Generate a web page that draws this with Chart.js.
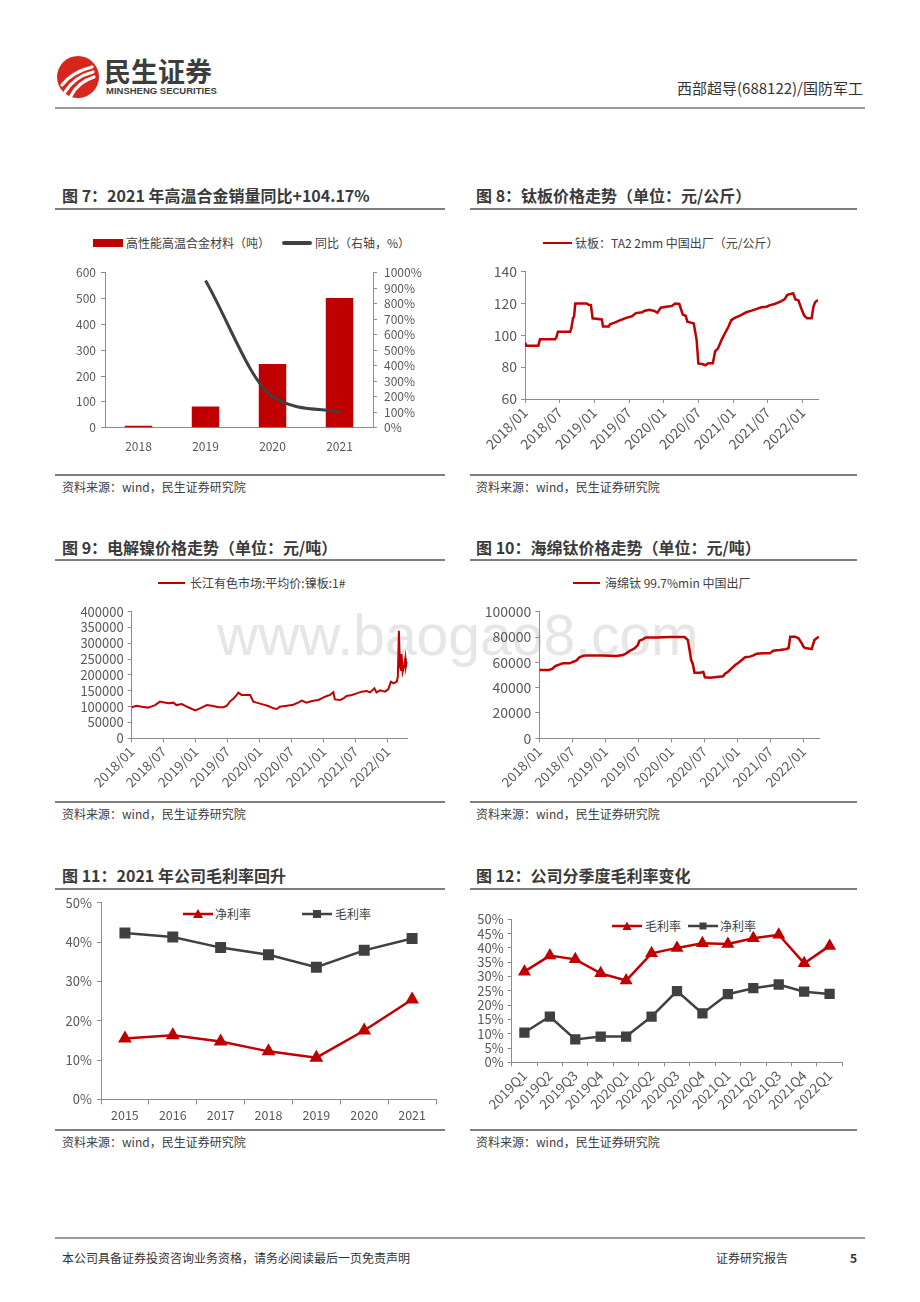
<!DOCTYPE html>
<html><head><meta charset="utf-8">
<script src="https://cdn.jsdelivr.net/npm/chart.js@4.4.1/dist/chart.umd.min.js"></script>
<style>
body{margin:0;width:920px;height:1302px;background:#fff;position:relative;overflow:hidden;font-family:"Noto Sans CJK SC","Noto Sans",sans-serif;color:#333}
.t{position:absolute;font-size:16px;font-weight:bold;color:#3a3a3a;white-space:nowrap;line-height:20px;height:20px}
.rule{position:absolute;height:2px;background:#7f7f7f}
.srule{position:absolute;height:1.5px;background:#7f7f7f}
.src{position:absolute;font-size:12px;color:#404040;white-space:nowrap;line-height:16px;height:16px}
.lt{position:absolute;font-size:12px;color:#404040;white-space:nowrap;line-height:16px;height:16px}
.box{position:absolute}
canvas{position:absolute}
.wm{position:absolute;font-family:"Liberation Sans",Arial,sans-serif;font-size:57px;color:#e6e6e6;white-space:nowrap;line-height:57px}
</style></head>
<body>
<script>
// ---------- DATA ----------
const years7 = ['2018','2019','2020','2021'];
const alloySales = [8, 82, 247, 502];
const alloyYoY = [null, 950, 201, 104.17];

const timeTickLabels = ['2018/01','2018/07','2019/01','2019/07','2020/01','2020/07','2021/01','2021/07','2022/01'];

// months counted from 2018/01
const tiPlateMonths = [0,0.25,2.3,2.6,5.2,5.4,5.7,7.8,8.0,8.3,8.5,8.7,10.7,11.0,11.4,11.7,13.3,13.5,14.5,14.7,15.5,16.5,17.5,18.5,19.2,20.3,20.6,21.5,22.4,22.9,23.5,24.4,25.4,26.0,26.7,27.3,27.8,28.1,29.2,29.7,30.0,30.8,31.2,31.7,32.5,32.9,33.4,34.0,34.6,35.2,35.7,36.3,37.2,38.3,39.2,40.0,40.9,41.8,42.4,43.2,44.1,44.9,45.4,46.4,46.8,47.3,47.8,48.3,48.8,49.6,49.9,50.2,50.7];
const tiPlatePrice = [95.4,93.5,93.5,97.5,97.5,98.5,102.3,102.3,104,110.7,112,120,120,119.2,119,110.7,110,105.5,105.5,107,108,109.6,111,112,114,114.5,115.3,116,115.3,114.2,117.4,118,118.4,120,119.7,113,112.3,108.6,107.5,97,82.4,81.8,81.2,82.4,82.4,90,91.8,97,101.3,105.4,109.6,111,112.4,114.5,115.5,116.5,117.6,118,119,119.7,121,122.6,125.5,126.4,122.6,122,117,112.5,110.7,110.7,118,120.8,122.2];

const nickelMonths = [0,0.9,1.9,3.1,4.4,5.3,5.9,6.9,7.8,8.4,9.4,10.6,11.9,12.8,14.1,15,16.3,17.2,17.8,18.4,19.1,19.7,20,20.6,21.6,22.2,22.8,23.4,24.4,25.6,26.6,27.2,27.8,29.1,30.3,31.3,31.9,32.8,33.8,35,35.9,36.6,37.2,37.8,38.1,39.1,39.7,40.3,41.3,42.2,43.1,44.1,44.7,45.5,45.9,46.6,47.5,48.1,48.6,49.1,49.7,49.9,50.1,50.3,50.5,50.6,50.8,51.1,51.3,51.4,51.6];
const nickelPrice = [97900,103000,100000,97000,105000,116000,114000,110500,112600,105000,108000,98000,88400,94700,105000,103000,98000,98000,102000,116000,126000,137000,144000,137000,137000,137000,116000,112600,108000,102000,94700,92600,100000,103000,106000,113700,119000,112600,118000,121000,128400,133700,137000,146000,123000,121000,126000,133700,137000,142000,147400,149500,145000,158000,145000,151600,147400,154700,179000,173700,179000,195000,340000,226000,216000,266000,210500,231600,252600,226000,242000];

const spongeMonths = [0,1.8,2.4,2.9,3.6,4.3,5.5,6.1,6.7,7.3,7.9,8.5,11.5,14,15.2,15.8,16.4,17.3,17.9,18.2,18.8,19.4,21.3,23.7,26.4,27,27.3,27.6,27.9,28.2,29.2,29.8,30.1,31,32.2,33.4,33.7,34.3,34.9,35.6,36.2,36.8,37.4,38.3,38.9,39.5,40.7,41.9,42.5,43.7,44.7,45.3,45.6,46.5,47.1,47.7,48,48.3,49.5,50,50.4,50.8];
const spongePrice = [54000,54000,55000,57100,58200,59200,59200,60300,61300,64000,65000,65500,65500,65000,65800,67100,69000,71000,73700,77100,78200,79700,79700,80000,80000,77600,69700,61800,58700,51800,51800,52400,48200,47900,48400,49000,50800,52600,55000,57900,59700,61800,64000,64500,65500,66800,67100,67100,69200,69700,70300,71100,80300,80300,79000,75000,72400,71300,70500,77600,79000,80300];

const years11 = ['2015','2016','2017','2018','2019','2020','2021'];
const netMargin11 = [15.5,16.3,14.7,12.2,10.6,17.5,25.4];
const grossMargin11 = [42.3,41.3,38.6,36.8,33.6,37.9,40.9];

const quarters12 = ['2019Q1','2019Q2','2019Q3','2019Q4','2020Q1','2020Q2','2020Q3','2020Q4','2021Q1','2021Q2','2021Q3','2021Q4','2022Q1'];
const grossMargin12 = [31.7,37.3,36.0,31.1,28.6,38.1,40.0,41.6,41.4,43.4,44.6,34.6,40.7];
const netMargin12 = [10.4,16.0,8.0,9.0,9.0,16.0,24.9,17.1,23.8,25.9,27.2,24.7,23.9];
</script>

<!-- header -->
<svg class="box" style="left:56px;top:55px" width="44" height="44" viewBox="0 0 44 44">
  <circle cx="22" cy="22" r="21" fill="#d9261c"/>
  <path d="M6,30 Q16,17 36,12" stroke="#fff" stroke-width="3.2" fill="none" stroke-linecap="round"/>
  <path d="M9,37 Q18,22 37,17" stroke="#fff" stroke-width="3.2" fill="none" stroke-linecap="round"/>
  <path d="M15,41 Q22,27 38,22" stroke="#fff" stroke-width="3.2" fill="none" stroke-linecap="round"/>
</svg>
<div class="box" style="left:104px;top:56px;font-size:27px;font-weight:bold;color:#3d3d3d;line-height:30px;white-space:nowrap">民生证券</div>
<div class="box" style="left:106px;top:85px;font-family:'Liberation Sans',Arial,sans-serif;font-size:9.5px;font-weight:bold;color:#3d3d3d;line-height:11px;white-space:nowrap">MINSHENG SECURITIES</div>
<div class="box" style="right:57px;top:78px;font-size:15px;color:#333;line-height:20px;white-space:nowrap">西部超导(688122)/国防军工</div>
<div class="rule" style="left:55px;top:107px;width:810px;background:#9a9a9a"></div>

<!-- titles -->
<div class="t" style="left:62px;top:185px">图 7：2021 年高温合金销量同比+104.17%</div>
<div class="rule" style="left:55px;top:208px;width:390px"></div>
<div class="t" style="left:476px;top:185px">图 8：钛板价格走势（单位：元/公斤）</div>
<div class="rule" style="left:470px;top:208px;width:387px"></div>

<div class="t" style="left:62px;top:537px">图 9：电解镍价格走势（单位：元/吨）</div>
<div class="rule" style="left:55px;top:559px;width:390px"></div>
<div class="t" style="left:476px;top:537px">图 10：海绵钛价格走势（单位：元/吨）</div>
<div class="rule" style="left:470px;top:559px;width:387px"></div>

<div class="t" style="left:62px;top:865px">图 11：2021 年公司毛利率回升</div>
<div class="rule" style="left:55px;top:888px;width:390px"></div>
<div class="t" style="left:476px;top:865px">图 12：公司分季度毛利率变化</div>
<div class="rule" style="left:470px;top:888px;width:387px"></div>

<!-- sources -->
<div class="srule" style="left:55px;top:474px;width:390px"></div>
<div class="src" style="left:62px;top:479px">资料来源：wind，民生证券研究院</div>
<div class="srule" style="left:470px;top:474px;width:387px"></div>
<div class="src" style="left:476px;top:479px">资料来源：wind，民生证券研究院</div>
<div class="srule" style="left:55px;top:801px;width:390px"></div>
<div class="src" style="left:62px;top:806px">资料来源：wind，民生证券研究院</div>
<div class="srule" style="left:470px;top:801px;width:387px"></div>
<div class="src" style="left:476px;top:806px">资料来源：wind，民生证券研究院</div>
<div class="srule" style="left:55px;top:1129px;width:390px"></div>
<div class="src" style="left:62px;top:1134px">资料来源：wind，民生证券研究院</div>
<div class="srule" style="left:470px;top:1129px;width:387px"></div>
<div class="src" style="left:476px;top:1134px">资料来源：wind，民生证券研究院</div>

<!-- watermark -->
<div class="wm" style="left:217px;top:607px">www.baogao8.com</div>

<!-- legends -->
<div class="box" style="left:93px;top:239px;width:30px;height:8px;background:#c00000"></div>
<div class="lt" style="left:126px;top:235px">高性能高温合金材料（吨）</div>
<div class="box" style="left:282px;top:241px;width:30px;height:3.5px;background:#404040;border-radius:2px"></div>
<div class="lt" style="left:315px;top:235px">同比（右轴，%）</div>

<div class="box" style="left:543px;top:241.5px;width:29px;height:2.5px;background:#c00000"></div>
<div class="lt" style="left:575px;top:235px">钛板：TA2 2mm 中国出厂（元/公斤）</div>

<div class="box" style="left:158px;top:581.5px;width:27px;height:2.5px;background:#c00000"></div>
<div class="lt" style="left:190px;top:575px">长江有色市场:平均价:镍板:1#</div>

<div class="box" style="left:573px;top:581.5px;width:27px;height:2.5px;background:#c00000"></div>
<div class="lt" style="left:605px;top:575px">海绵钛 99.7%min 中国出厂</div>

<svg class="box" style="left:183px;top:908px" width="30" height="12"><line x1="0" y1="6" x2="30" y2="6" stroke="#c00000" stroke-width="2.5"/><polygon points="15,1 20,10 10,10" fill="#c00000"/></svg>
<div class="lt" style="left:215px;top:906px">净利率</div>
<svg class="box" style="left:302px;top:908px" width="30" height="12"><line x1="0" y1="6" x2="30" y2="6" stroke="#404040" stroke-width="2.5"/><rect x="11" y="2" width="8" height="8" fill="#404040"/></svg>
<div class="lt" style="left:335px;top:906px">毛利率</div>

<svg class="box" style="left:612px;top:920px" width="30" height="12"><line x1="0" y1="6" x2="30" y2="6" stroke="#c00000" stroke-width="2.5"/><polygon points="15,1.5 19.5,10 10.5,10" fill="#c00000"/></svg>
<div class="lt" style="left:645px;top:918px">毛利率</div>
<svg class="box" style="left:688px;top:920px" width="30" height="12"><line x1="0" y1="6" x2="30" y2="6" stroke="#404040" stroke-width="2.5"/><rect x="11.5" y="2.5" width="7" height="7" fill="#404040"/></svg>
<div class="lt" style="left:720px;top:918px">净利率</div>

<!-- footer -->
<div class="rule" style="left:55px;top:1237px;width:810px;background:#9a9a9a"></div>
<div class="box" style="left:62px;top:1250px;font-size:12px;color:#333;line-height:16px;white-space:nowrap">本公司具备证券投资咨询业务资格，请务必阅读最后一页免责声明</div>
<div class="box" style="left:716px;top:1250px;font-size:12px;color:#333;line-height:16px;white-space:nowrap">证券研究报告</div>
<div class="box" style="left:850px;top:1250px;font-size:12px;font-weight:bold;color:#333;line-height:16px">5</div>

<canvas id="c7" width="390" height="215" style="left:55px;top:255px"></canvas>
<canvas id="c8" width="390" height="215" style="left:470px;top:255px"></canvas>
<canvas id="c9" width="390" height="210" style="left:55px;top:590px"></canvas>
<canvas id="c10" width="390" height="210" style="left:470px;top:590px"></canvas>
<canvas id="c11" width="390" height="235" style="left:55px;top:890px"></canvas>
<canvas id="c12" width="390" height="225" style="left:470px;top:905px"></canvas>

<script>
const RED = '#c00000', GRAY = '#404040', AXIS = '#8c8c8c', TICK = '#595959';
Chart.defaults.font.family = '"Noto Sans CJK SC","Noto Sans",sans-serif';
Chart.defaults.font.size = 12;
Chart.defaults.color = TICK;
Chart.defaults.animation = false;
Chart.defaults.responsive = false;
Chart.defaults.plugins.legend.display = false;
Chart.defaults.plugins.tooltip.enabled = false;

function grid(extra){ return Object.assign({display:true, drawOnChartArea:false, drawTicks:true, tickLength:4, color:AXIS}, extra||{}); }
const border = {display:true, color:AXIS, width:1};
const fitW = w => (s => { s.width = w; });
const fitH = h => (s => { s.height = h; });
const pts = (xs, ys) => xs.map((x,i) => ({x:x, y:ys[i]}));
const plain = v => String(v);

function timeX(max, h, fs){
  return {type:'linear', min:0, max:max, afterFit:fitH(h), border:border, grid:grid({tickLength:4}),
    ticks:{stepSize:6, includeBounds:false, autoSkip:false, minRotation:45, maxRotation:45, padding:1, font:{size:fs},
      callback: v => timeTickLabels[Math.round(v/6)] || ''}};
}

// Chart 7
new Chart(document.getElementById('c7'), {
  data:{labels:years7, datasets:[
    {type:'line', data:alloyYoY, yAxisID:'y1', borderColor:GRAY, borderWidth:3, pointRadius:0, cubicInterpolationMode:'monotone', order:0},
    {type:'bar', data:alloySales, yAxisID:'y', backgroundColor:RED, categoryPercentage:1, barPercentage:0.41, order:1}
  ]},
  options:{layout:{padding:{top:17.7,right:0,left:0,bottom:0}},
    scales:{
      x:{afterFit:fitH(42.3), border:border, grid:{display:false}, ticks:{padding:4}},
      y:{position:'left', min:0, max:600, afterFit:fitW(50), border:border, grid:grid(), ticks:{stepSize:100, autoSkip:false, padding:5}},
      y1:{position:'right', min:0, max:1000, afterFit:fitW(72), border:border, grid:grid(), ticks:{stepSize:100, autoSkip:false, padding:7, callback:v=>v+'%'}}
    }}
});

// Chart 8
new Chart(document.getElementById('c8'), {
  type:'line',
  data:{datasets:[{data:pts(tiPlateMonths, tiPlatePrice), borderColor:RED, borderWidth:2.5, pointRadius:0, tension:0}]},
  options:{layout:{padding:{top:16.7,right:42,left:0,bottom:0}},
    scales:{
      x:timeX(50.7, 71, 14),
      y:{min:60, max:140, afterFit:fitW(55), border:border, grid:grid(), ticks:{stepSize:20, autoSkip:false, padding:4, font:{size:14}}}
    }}
});

// Chart 9
new Chart(document.getElementById('c9'), {
  type:'line',
  data:{datasets:[{data:pts(nickelMonths, nickelPrice), borderColor:RED, borderWidth:2, pointRadius:0, tension:0}]},
  options:{layout:{padding:{top:21.7,right:37.3,left:0,bottom:0}},
    scales:{
      x:timeX(51.75, 61.7, 13.5),
      y:{min:0, max:400000, afterFit:fitW(76.7), border:border, grid:grid(), ticks:{stepSize:50000, autoSkip:false, padding:4, font:{size:13}, callback:plain}}
    }}
});

// Chart 10
new Chart(document.getElementById('c10'), {
  type:'line',
  data:{datasets:[{data:pts(spongeMonths, spongePrice), borderColor:RED, borderWidth:2.5, pointRadius:0, tension:0}]},
  options:{layout:{padding:{top:21.7,right:41,left:0,bottom:0}},
    scales:{
      x:timeX(50.83, 61.7, 13.5),
      y:{min:0, max:100000, afterFit:fitW(69.3), border:border, grid:grid(), ticks:{stepSize:20000, autoSkip:false, padding:4, font:{size:14}, callback:plain}}
    }}
});

// Chart 11
new Chart(document.getElementById('c11'), {
  type:'line',
  data:{labels:years11, datasets:[
    {data:netMargin11, borderColor:RED, backgroundColor:RED, borderWidth:2.5, pointStyle:'triangle', pointRadius:5.5, tension:0},
    {data:grossMargin11, borderColor:GRAY, backgroundColor:GRAY, borderWidth:2.5, pointStyle:'rect', pointRadius:6, tension:0}
  ]},
  options:{layout:{padding:{top:11.7,right:9,left:0,bottom:0}},
    scales:{
      x:{offset:true, afterFit:fitH(25.7), border:border, grid:grid({offset:true, tickLength:5}), ticks:{padding:3, font:{size:12.5}}},
      y:{min:0, max:50, afterFit:fitW(46), border:border, grid:grid(), ticks:{stepSize:10, autoSkip:false, padding:5, font:{size:13}, callback:v=>v+'%'}}
    }}
});

// Chart 12
new Chart(document.getElementById('c12'), {
  type:'line',
  data:{labels:quarters12, datasets:[
    {data:grossMargin12, borderColor:RED, backgroundColor:RED, borderWidth:2.5, pointStyle:'triangle', pointRadius:5, tension:0},
    {data:netMargin12, borderColor:GRAY, backgroundColor:GRAY, borderWidth:2.5, pointStyle:'rect', pointRadius:5.5, tension:0}
  ]},
  options:{layout:{padding:{top:14.3,right:17.7,left:0,bottom:0}},
    scales:{
      x:{offset:true, afterFit:fitH(67.7), border:border, grid:grid({offset:true, tickLength:4}), ticks:{autoSkip:false, minRotation:45, maxRotation:45, padding:1, font:{size:13.5}}},
      y:{min:0, max:50, afterFit:fitW(41.7), border:border, grid:grid(), ticks:{stepSize:5, autoSkip:false, padding:4, font:{size:13}, callback:v=>v+'%'}}
    }}
});
</script>
</body></html>
